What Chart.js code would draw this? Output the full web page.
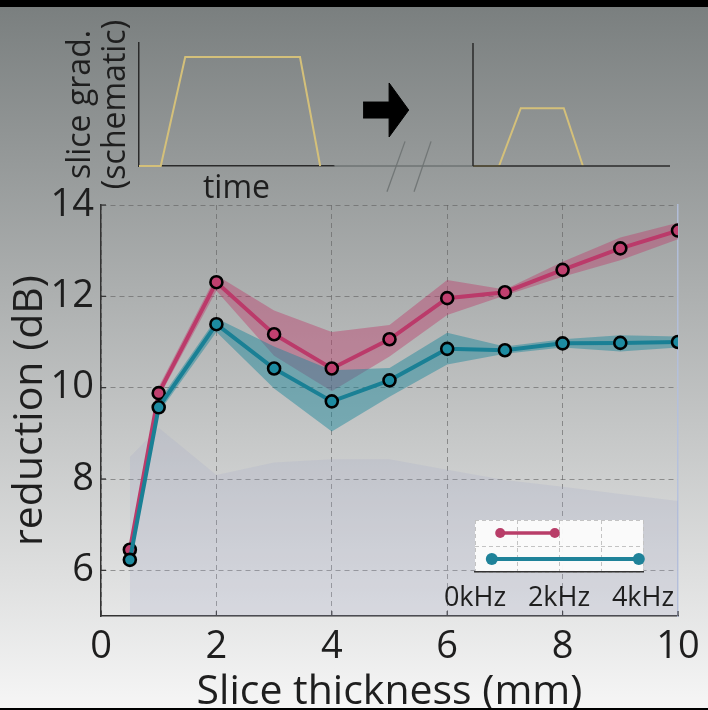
<!DOCTYPE html>
<html>
<head>
<meta charset="utf-8">
<script src="https://cdn.jsdelivr.net/npm/chart.js@4.4.1/dist/chart.umd.min.js"></script>
<style>
  html, body { margin: 0; padding: 0; background: #000; }
  #page { position: relative; width: 708px; height: 710px; overflow: hidden;
          background: linear-gradient(to bottom, #797e7e 0px, #f6f6f6 710px); }
  #page canvas { position: absolute; }
  .bar { position: absolute; left: 0; width: 708px; background: #000; }
</style>
</head>
<body>
<div id="page">
  <canvas id="mainChart" width="708" height="710" style="left:0;top:0"></canvas>
  <canvas id="gradLeft" width="350" height="205" style="left:0;top:0"></canvas>
  <canvas id="gradRight" width="378" height="205" style="left:330px;top:0"></canvas>
  <canvas id="bwChart" width="300" height="120" style="left:400px;top:505px"></canvas>
  <div class="bar" style="top:0;height:7px"></div>
  <div class="bar" style="top:708px;height:2px"></div>
</div>
<script>
// ---- data ----
const thickness = [0.5, 1, 2, 3, 4, 5, 6, 7, 8, 9, 10];
const pinkMean = [6.45, 9.88, 12.31, 11.17, 10.42, 11.06, 11.96, 12.09, 12.58, 13.05, 13.44];
const pinkLow  = [6.40, 9.78, 12.12, 10.70, 9.92, 10.68, 11.59, 12.02, 12.43, 12.79, 13.25];
const pinkHigh = [6.50, 10.02, 12.46, 11.69, 11.22, 11.37, 12.36, 12.15, 12.76, 13.29, 13.61];
const tealMean = [6.23, 9.57, 11.39, 10.42, 9.70, 10.16, 10.85, 10.82, 10.97, 10.98, 11.00];
const tealLow  = [6.18, 9.45, 11.22, 9.98, 9.04, 9.80, 10.51, 10.74, 10.88, 10.79, 10.88];
const tealHigh = [6.28, 9.70, 11.52, 10.90, 10.38, 10.43, 11.20, 10.90, 11.06, 11.15, 11.12];
const bgLevel  = [8.48, 9.12, 8.09, 8.36, 8.43, 8.43, 8.20, 7.98, 7.83, 7.67, 7.52];
const xTickValues = [0, 2, 4, 6, 8, 10];
const yTickValues = [6, 8, 10, 12, 14];

// bandwidth inset (kHz)
const bwPink = [0.6, 1.9];
const bwTeal = [0.4, 3.9];
const bwTickValues = [0, 1, 2, 3, 4];
const bwTickLabels = ['0kHz', '', '2kHz', '', '4kHz'];

// schematic gradient shapes (arbitrary time units)
const longT = [0, 4.1, 8.7, 30.3, 34.1];
const longG = [0, 0, 0.886, 0.886, 0];
const shortT = [0, 4.9, 9.0, 17.1, 20.7];
const shortG = [0, 0, 0.47, 0.47, 0];
const rightAxisT = [0, 37.1];
const joinT = [-26.2, 0];
const breakA = { t: [-16.2, -12.8], g: [-0.21, 0.2] };
const breakB = { t: [-11.1, -7.9], g: [-0.21, 0.2] };
const arrowT = [-20.7, -15.8, -15.8, -12.1, -15.8, -15.8, -20.7];
const arrowG = [0.52, 0.52, 0.675, 0.455, 0.236, 0.39, 0.39];

const PINK = '#bb3a6a';
const TEAL = '#1a8095';
const INK = '#1e1e1e';
const GRID = 'rgba(95,95,95,0.6)';

Chart.defaults.font.family = "'Open Sans', sans-serif";
Chart.defaults.animation = false;
Chart.defaults.plugins.legend.display = false;
Chart.defaults.plugins.tooltip.enabled = false;

const xy = (xs, ys) => xs.map((x, i) => ({ x: x, y: ys[i] }));

// small inward tick marks on the main axes
const innerTicks = {
    id: 'innerTicks',
    beforeDatasetsDraw(chart) {
        const { ctx, chartArea, scales } = chart;
        ctx.save();
        ctx.strokeStyle = '#333';
        ctx.lineWidth = 1.2;
        scales.y.ticks.forEach(t => {
            const py = scales.y.getPixelForValue(t.value);
            ctx.beginPath();
            ctx.moveTo(chartArea.left, py);
            ctx.lineTo(chartArea.left + 5, py);
            ctx.stroke();
        });
        scales.x.ticks.forEach(t => {
            const px = scales.x.getPixelForValue(t.value);
            ctx.beginPath();
            ctx.moveTo(px, chartArea.bottom);
            ctx.lineTo(px, chartArea.bottom - 5);
            ctx.stroke();
        });
        ctx.restore();
    }
};

// ---- main chart ----
new Chart(document.getElementById('mainChart'), {
    type: 'line',
    data: {
        datasets: [
            { data: xy(thickness, bgLevel), fill: 'start', backgroundColor: 'rgba(165,170,200,0.22)',
              borderWidth: 0, pointRadius: 0, order: 10 },
            { data: xy(thickness, pinkLow), fill: false, borderWidth: 0, pointRadius: 0, order: 9 },
            { data: xy(thickness, pinkHigh), fill: '-1', backgroundColor: 'rgba(188,58,106,0.42)',
              borderWidth: 0, pointRadius: 0, order: 8 },
            { data: xy(thickness, tealLow), fill: false, borderWidth: 0, pointRadius: 0, order: 7 },
            { data: xy(thickness, tealHigh), fill: '-1', backgroundColor: 'rgba(22,132,152,0.45)',
              borderWidth: 0, pointRadius: 0, order: 6 },
            { data: xy(thickness, pinkMean), borderColor: PINK, borderWidth: 4, pointRadius: 6,
              pointBackgroundColor: '#c0406f', pointBorderColor: '#000', pointBorderWidth: 2.6, order: 2 },
            { data: xy(thickness, tealMean), borderColor: TEAL, borderWidth: 4, pointRadius: 6,
              pointBackgroundColor: '#1d8ba1', pointBorderColor: '#000', pointBorderWidth: 2.6, order: 1 }
        ]
    },
    options: {
        responsive: false,
        layout: { padding: { top: 205, right: 30, left: 0, bottom: 0 } },
        scales: {
            x: {
                type: 'linear', min: 0, max: 10,
                afterBuildTicks: s => { s.ticks = xTickValues.map(v => ({ value: v })); },
                afterFit: s => { s.height = 94; },
                ticks: { color: INK, padding: 8, font: { size: 38, lineHeight: 1.2 } },
                grid: { drawTicks: false, lineWidth: 1,
                        color: c => (c.tick && c.tick.value === 10) ? 'rgba(0,0,0,0)' : GRID },
                border: { display: true, color: '#333', width: 1.5, dash: [5, 4] },
                title: { display: true, text: 'Slice thickness (mm)', color: INK,
                         font: { size: 41, lineHeight: 1 }, padding: { top: 0, bottom: -3 } }
            },
            y: {
                type: 'linear', min: 5, max: 14,
                afterBuildTicks: s => { s.ticks = yTickValues.map(v => ({ value: v })); },
                afterFit: s => { s.width = 101; },
                ticks: { color: INK, padding: 7, font: { size: 38, lineHeight: 1.2 } },
                grid: { drawTicks: false, lineWidth: 1, color: GRID },
                border: { display: true, color: '#333', width: 1.5, dash: [5, 4] },
                title: { display: true, text: 'reduction (dB)', color: INK,
                         font: { size: 41, lineHeight: 1 }, padding: { top: 10, bottom: 0 } }
            },
            y2: {
                position: 'right', min: 0, max: 1,
                afterFit: s => { s.width = 0; },
                ticks: { display: false },
                grid: { display: false, drawTicks: false },
                border: { display: true, color: 'rgba(180,192,222,0.9)', width: 1.5 }
            }
        }
    },
    plugins: [innerTicks]
});

// ---- schematic: long slice gradient ----
const schemAxis = { color: '#2a2a2a', width: 1.5 };
new Chart(document.getElementById('gradLeft'), {
    type: 'line',
    data: {
        datasets: [
            { data: xy(longT, longG), borderColor: '#d4c07a', borderWidth: 2, pointRadius: 0, clip: false }
        ]
    },
    options: {
        responsive: false,
        layout: { padding: { top: 43, right: 16, left: 0, bottom: 0 } },
        scales: {
            x: {
                type: 'linear', min: 0, max: 36.7,
                afterFit: s => { s.height = 39; },
                ticks: { display: false }, grid: { display: false, drawTicks: false },
                border: schemAxis,
                title: { display: true, text: 'time', color: INK,
                         font: { size: 32, lineHeight: 1 }, padding: { top: 0, bottom: 0 } }
            },
            y: {
                type: 'linear', min: 0, max: 1,
                afterFit: s => { s.width = 139; },
                ticks: { display: false }, grid: { display: false, drawTicks: false },
                border: schemAxis,
                title: { display: true, text: ['slice grad.', '(schematic)'], color: INK,
                         font: { size: 32, lineHeight: 1.1 }, padding: { top: 63, bottom: 0 } }
            }
        }
    }
});

// ---- schematic: break, arrow, short slice gradient ----
const darkLine = { borderColor: '#2a2a2a', borderWidth: 1.5, pointRadius: 0, clip: false };
new Chart(document.getElementById('gradRight'), {
    type: 'line',
    data: {
        datasets: [
            Object.assign({ data: xy([0, 0], [0, 1]) }, darkLine),
            Object.assign({ data: xy(rightAxisT, [0, 0]) }, darkLine),
            { data: xy(joinT, [0, 0]), borderColor: '#6e7373', borderWidth: 1.5, pointRadius: 0, clip: false },
            { data: xy(breakA.t, breakA.g), borderColor: '#727777', borderWidth: 1.3, pointRadius: 0, clip: false },
            { data: xy(breakB.t, breakB.g), borderColor: '#727777', borderWidth: 1.3, pointRadius: 0, clip: false },
            { data: xy(arrowT, arrowG), fill: 'shape', backgroundColor: '#000', borderColor: '#000',
              borderWidth: 1, pointRadius: 0, clip: false },
            { data: xy(shortT, shortG), borderColor: '#d4c07a', borderWidth: 2, pointRadius: 0, clip: false }
        ]
    },
    options: {
        responsive: false,
        layout: { padding: { top: 43, right: 38, left: 0, bottom: 0 } },
        scales: {
            x: {
                type: 'linear', min: -26.93, max: 37.1,
                afterFit: s => { s.height = 39; },
                ticks: { display: false }, grid: { display: false, drawTicks: false },
                border: { display: false }
            },
            y: {
                type: 'linear', min: 0, max: 1,
                afterFit: s => { s.width = 0; },
                ticks: { display: false }, grid: { display: false, drawTicks: false },
                border: { display: false }
            }
        }
    }
});

// ---- bandwidth inset ----
const whiteArea = {
    id: 'whiteArea',
    beforeDraw(chart) {
        const { ctx, chartArea: a } = chart;
        ctx.save();
        ctx.fillStyle = 'rgba(252,252,252,0.95)';
        ctx.fillRect(a.left, a.top, a.right - a.left, a.bottom - a.top);
        ctx.restore();
    }
};
new Chart(document.getElementById('bwChart'), {
    type: 'line',
    data: {
        datasets: [
            { data: xy(bwPink, [1.5, 1.5]), borderColor: '#b83d68', borderWidth: 3.5, pointRadius: 5,
              pointBackgroundColor: '#b83d68', pointBorderWidth: 0, clip: false },
            { data: xy(bwTeal, [0.5, 0.5]), borderColor: '#1f8299', borderWidth: 4, pointRadius: 6,
              pointBackgroundColor: '#1f8299', pointBorderWidth: 0, clip: false }
        ]
    },
    options: {
        responsive: false,
        layout: { padding: { top: 15, right: 57, left: 75, bottom: 0 } },
        scales: {
            x: {
                type: 'linear', min: 0, max: 4,
                afterBuildTicks: s => { s.ticks = bwTickValues.map(v => ({ value: v })); },
                afterFit: s => { s.height = 53; },
                ticks: { color: INK, padding: 10, autoSkip: false, maxRotation: 0,
                         font: { size: 27, lineHeight: 1.2 },
                         callback: (v, i) => bwTickLabels[i] },
                grid: { drawTicks: false, color: 'rgba(195,195,195,1)' },
                border: { display: true, color: '#333', width: 1.5, dash: [4, 3] }
            },
            y: {
                type: 'linear', min: 0, max: 2,
                afterBuildTicks: s => { s.ticks = [0, 1, 2].map(v => ({ value: v })); },
                afterFit: s => { s.width = 0; },
                ticks: { display: false },
                grid: { drawTicks: false, color: 'rgba(195,195,195,1)' },
                border: { display: false, dash: [4, 3] }
            }
        }
    },
    plugins: [whiteArea]
});
</script>
</body>
</html>
